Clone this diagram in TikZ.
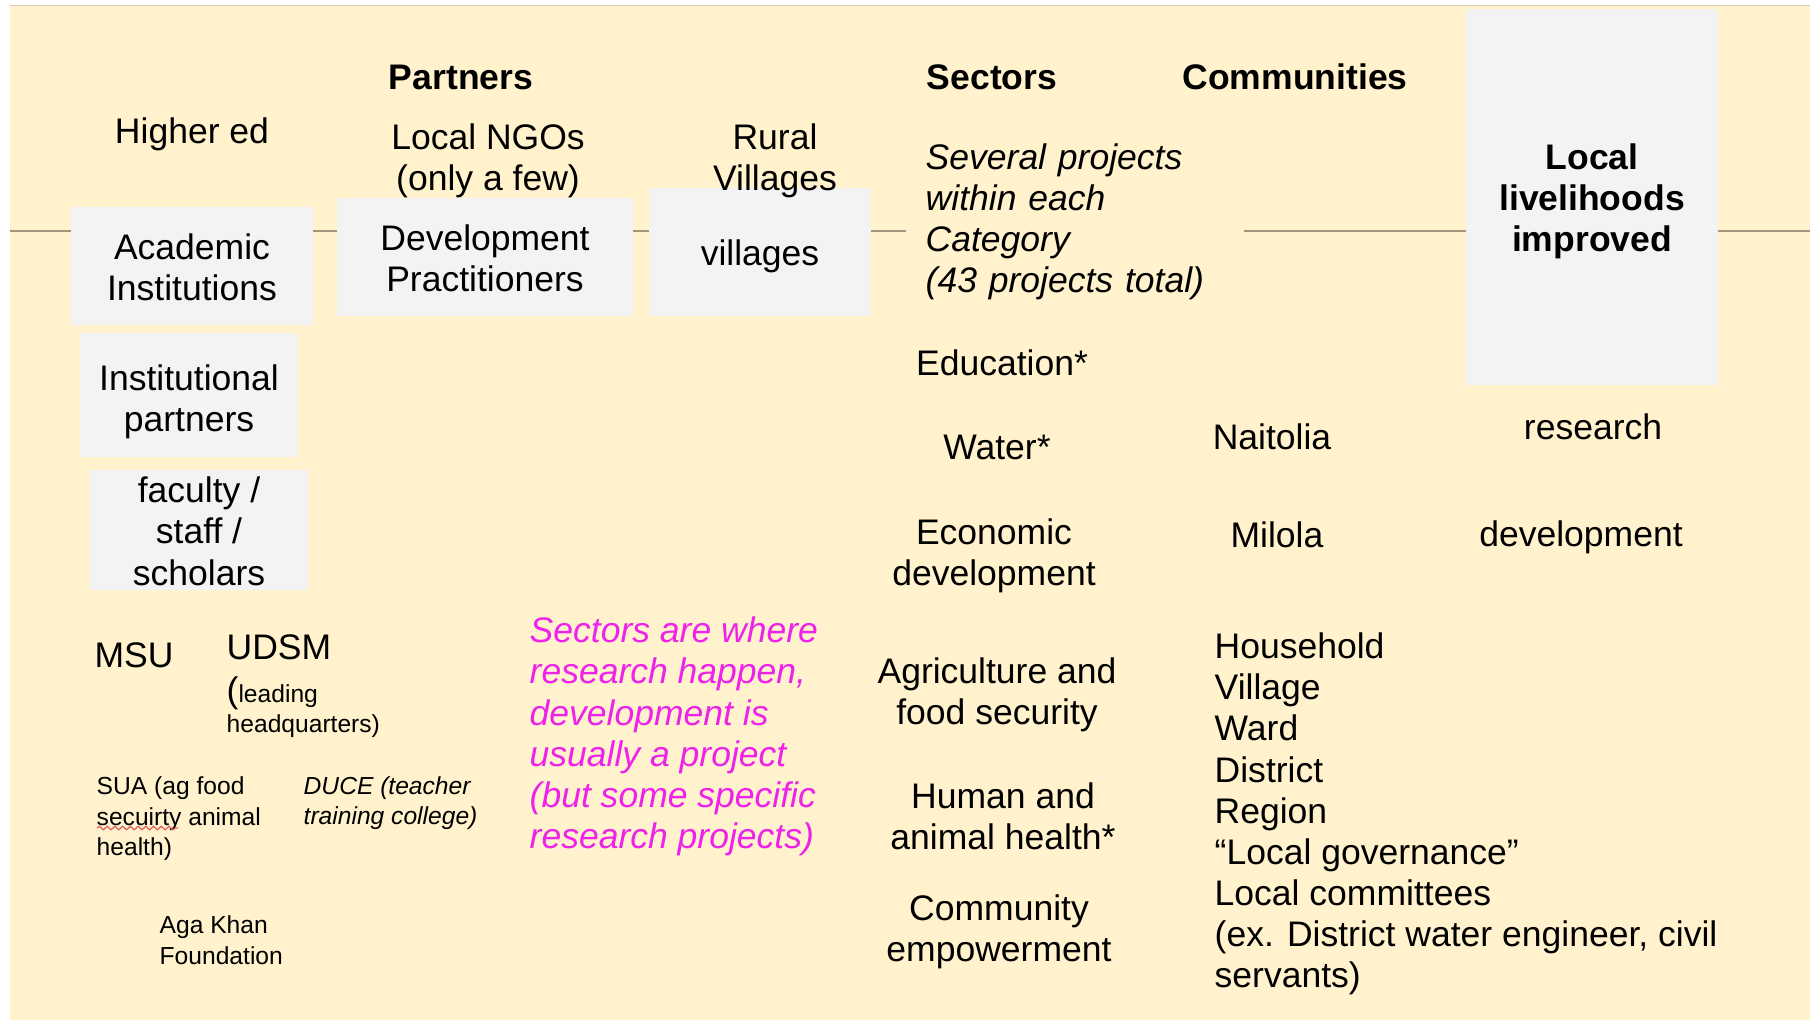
\documentclass[tikz,border=0pt]{standalone}
\usepackage{fontspec}
\setmainfont{Liberation Sans}
\usetikzlibrary{decorations.pathmorphing}

\definecolor{cream}{HTML}{FFF2CC}
\definecolor{boxgray}{HTML}{F3F3F3}
\definecolor{rulecol}{RGB}{160,150,125}
\definecolor{edgecol}{RGB}{215,205,180}
\definecolor{notepink}{RGB}{238,34,232}
\definecolor{spellred}{RGB}{225,95,95}

\tikzset{
  lbl/.style={font=\fontsize{10.1}{11.7}\selectfont, align=center, inner sep=0pt},
  hdr/.style={lbl, font=\fontsize{10.1}{11.7}\selectfont\bfseries},
  box/.style={fill=boxgray, inner sep=0pt},
  smalltxt/.style={font=\fontsize{7}{8.7}\selectfont, align=left, inner sep=0pt, anchor=west},
  note/.style={lbl, align=left, anchor=west, text=notepink, font=\fontsize{10.1}{11.7}\selectfont\itshape},
  rule/.style={rulecol, line width=0.6pt}
}

\begin{document}
\begin{tikzpicture}[x=0.01cm, y=-0.01cm]
    \useasboundingbox (0,0) rectangle (1818,1020);
    % slide background
    \fill[white] (0,0) rectangle (1818,1020);
    \fill[cream] (10,6) rectangle (1810,1020);
    \draw[edgecol, line width=0.5pt] (10,5.5) -- (1810,5.5);

    % rule behind the boxes
    \coordinate (ruleW) at (10,231);
    \coordinate (ruleE) at (1810,231);
    \draw[rule] (ruleW) -- (ruleE);

    % grey boxes
    \node[box, minimum width=2.41cm, minimum height=1.18cm] (academic) at (192,266) {};
    \node[box, minimum width=2.96cm, minimum height=1.18cm] (devprac) at (485,257) {};
    \node[box, minimum width=2.22cm, minimum height=1.27cm] (villagebox) at (760,252) {};
    \node[box, minimum width=2.18cm, minimum height=1.24cm] (instpart) at (189,395) {};
    \node[box, minimum width=2.18cm, minimum height=1.20cm] (faculty) at (199,530) {};
    \node[box, minimum width=2.52cm, minimum height=3.76cm] (livelihoods) at (1592,197) {};

    % box texts
    \node[lbl, yshift=-0.01cm] (academictxt) at (academic.center) {Academic\\Institutions};
    \node[lbl, yshift=-0.01cm] (devpractxt) at (devprac.center) {Development\\Practitioners};
    \node[lbl, yshift=-0.046cm] (villagetxt) at (villagebox.center) {villages};
    \node[lbl, yshift=-0.07cm] (instparttxt) at (instpart.center) {Institutional\\partners};
    \node[lbl, yshift=-0.012cm] (facultytxt) at (faculty.center) {faculty /\\staff /\\scholars};
    \node[hdr, yshift=-0.04cm] (livelihoodstxt) at (livelihoods.center) {Local\\livelihoods\\improved};

    % headers
    \node[hdr] (partners) at (461,77) {Partners};
    \node[hdr] (sectors) at (992,77) {Sectors};
    \node[hdr] (communities) at (1295,77) {Communities};

    % partner types
    \node[lbl] (highered) at (192,134.5) {Higher ed};
    \node[lbl] (ngos) at (488,160.5) {Local NGOs\\(only a few)};
    \node[lbl] (rural) at (775,160.5) {Rural\\Villages};

    % sectors
    \node[lbl, anchor=west, align=left, fill=cream, text width=2.98cm, inner xsep=0.2cm,
          font=\fontsize{10.1}{11.7}\selectfont\itshape] (blurb) at (905,222)
          {Several projects\\within each\\Category\\(43 projects total)};
    \node[lbl] (education) at (1002,363) {Education*};
    \node[lbl] (water) at (997,447) {Water*};
    \node[lbl] (econ) at (994,555.5) {Economic\\development};
    \node[lbl] (agri) at (997,694.5) {Agriculture and\\food security};
    \node[lbl] (health) at (1003,816.5) {Human and\\animal health*};
    \node[lbl] (empower) at (999,931.5) {Community\\empowerment};

    % communities
    \node[lbl] (naitolia) at (1272,437) {Naitolia};
    \node[lbl] (milola) at (1277,535) {Milola};
    \node[lbl, anchor=west, align=left] (levels) at (1214,814)
          {Household\\Village\\Ward\\District\\Region\\“Local governance”\\Local committees\\(ex. District water engineer, civil\\servants)};

    % outcomes
    \node[lbl] (research) at (1593,427) {research};
    \node[lbl] (devel) at (1581,537.5) {development};

    % institutions
    \node[lbl] (msu) at (134,655) {MSU};
    \node[lbl, anchor=west] (udsm) at (226,647) {UDSM};
    \node[smalltxt] (udsmnote) at (226,707) {{\fontsize{10.1}{11.7}\selectfont(}leading\\headquarters)};
    \node[smalltxt] (sua) at (96,819) {SUA (ag food\\secuirty animal\\health)};
    \draw[spellred, line width=0.35pt, decorate, decoration={snake, amplitude=0.5pt, segment length=2.2pt}]
          (97,828) -- (178,828);
    \node[smalltxt, font=\fontsize{7}{8.7}\selectfont\itshape] (duce) at (303,803) {DUCE (teacher\\training college)};
    \node[smalltxt] (agakhan) at (159,940) {Aga Khan\\Foundation};

    % magenta note
    \node[note] (sectornote) at (529,736.5)
          {Sectors are where\\research happen,\\development is\\usually a project\\(but some specific\\research projects)};
\end{tikzpicture}
\end{document}
